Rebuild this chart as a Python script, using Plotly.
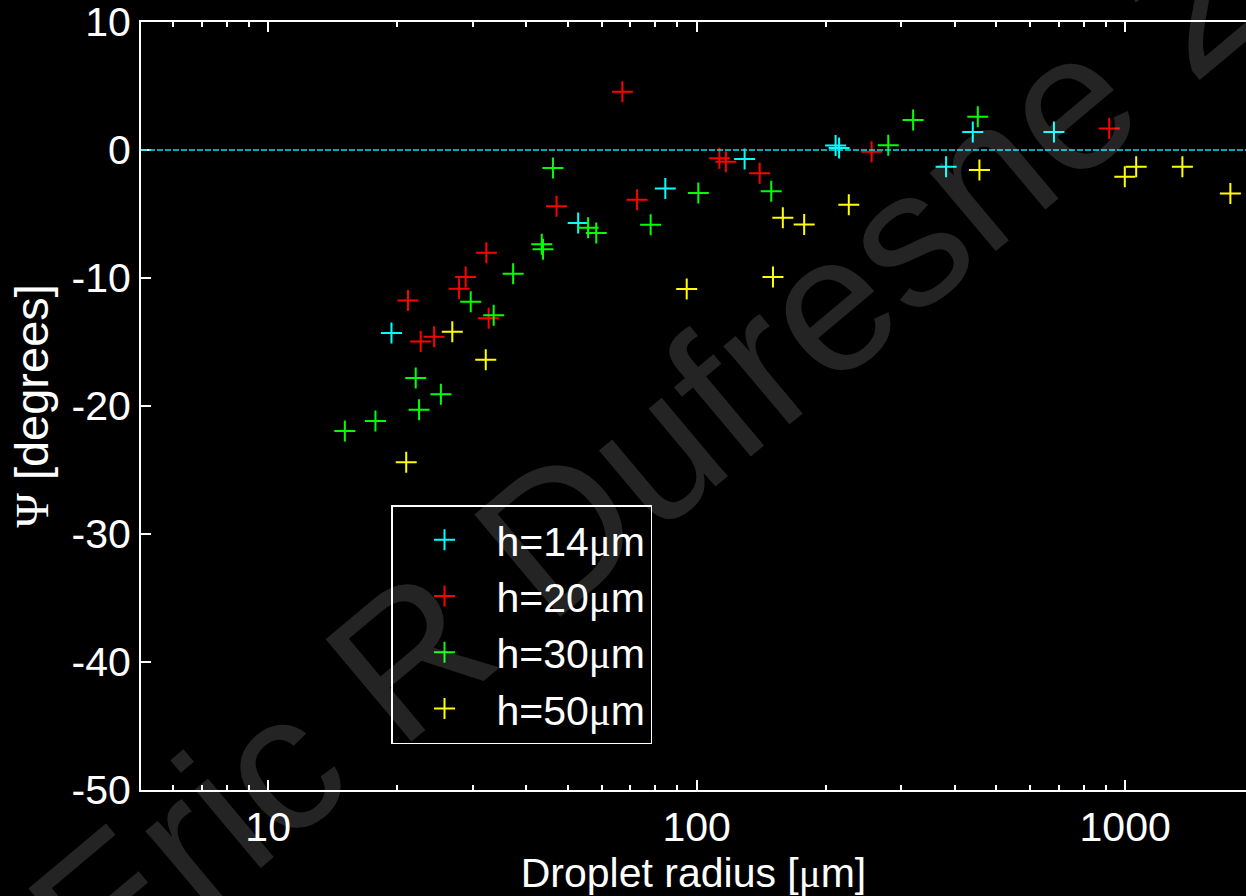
import math
import plotly.graph_objects as go

# Contact-angle offset Psi versus droplet radius, for four film thicknesses
r_h14 = [19.4, 52.9, 84.5, 129.4, 211, 215, 382, 441, 682]
psi_h14 = [-14.3, -5.7, -3.0, -0.7, 0.35, 0.15, -1.3, 1.4, 1.4]

r_h20 = [21.2, 22.7, 24.4, 27.9, 28.9, 32.3, 32.7, 47.1, 67.1, 72.6, 113, 117, 140.3, 256, 918]
psi_h20 = [-11.75, -14.97, -14.58, -10.83, -9.92, -8.02, -13.15, -4.4, 4.55, -3.88, -0.65, -0.91, -1.82, -0.13, 1.69]

r_h30 = [15.1, 17.8, 22.1, 22.5, 25.3, 29.7, 33.6, 37.3, 43.5, 43.8, 46.2, 55.8, 58.3, 78.1, 100.9, 149.3, 280, 320, 453]
psi_h30 = [-21.95, -21.17, -17.81, -20.29, -19.09, -11.85, -12.9, -9.66, -7.37, -7.76, -1.41, -6.07, -6.48, -5.83, -3.36, -3.23, 0.37, 2.34, 2.6]

r_h50 = [21.0, 26.9, 32.2, 94.8, 150.7, 158.9, 178.2, 226.5, 457, 998, 1061, 1360, 1760]
psi_h50 = [-24.4, -14.19, -16.38, -10.86, -9.92, -5.29, -5.81, -4.27, -1.56, -2.08, -1.3, -1.3, -3.39]

SERIF = "'Liberation Serif', 'DejaVu Serif', serif"
MU = f"<span style=\"font-family:{SERIF}\">μ</span>"
PSI = f"<span style=\"font-family:{SERIF}\">Ψ</span>"

series_names = [f"h=14{MU}m", f"h=20{MU}m", f"h=30{MU}m", f"h=50{MU}m"]
series_colors = ["#00ffff", "#ff0000", "#00ff00", "#ffff00"]

x_major = [10, 100, 1000]
x_major_text = ["10", "100", "1000"]
x_minor = [6, 7, 8, 9, 20, 30, 40, 50, 60, 70, 80, 90,
           200, 300, 400, 500, 600, 700, 800, 900, 2000]
y_ticks = [-50, -40, -30, -20, -10, 0, 10]
y_tick_text = ["-50", "-40", "-30", "-20", "-10", "0", "10"]

FONT = "Liberation Sans, Arial, sans-serif"
W, H = 1246, 896
ML, MR, MT, MB = 141, 0, 22, 106

fig = go.Figure()
for xs, ys, name, col in zip([r_h14, r_h20, r_h30, r_h50],
                             [psi_h14, psi_h20, psi_h30, psi_h50],
                             series_names, series_colors):
    fig.add_trace(go.Scatter(
        x=xs, y=ys, mode="markers", name=name,
        marker=dict(symbol="cross-thin", size=15, color=col,
                    line=dict(color=col, width=2)),
    ))

# zero reference line
fig.add_shape(type="line", xref="paper", yref="y", x0=0, x1=1, y0=0, y1=0,
              line=dict(color="#00e8e8", width=1.3, dash="6px,2px"))

# diagonal author watermark
def px_to_paper(px, py):
    return (px - ML) / (W - ML - MR), (H - MB - py) / (H - MT - MB)

wx, wy = px_to_paper(645, 458)
fig.add_annotation(
    text="Eric R Dufresne 2", xref="paper", yref="paper", x=wx, y=wy,
    xanchor="center", yanchor="middle", showarrow=False, textangle=-40,
    font=dict(family=FONT, size=194, color="rgba(255,255,255,0.14)"),
)

fig.update_layout(
    width=W, height=H,
    margin=dict(l=ML, r=MR, t=MT, b=MB),
    paper_bgcolor="black", plot_bgcolor="black",
    font=dict(family=FONT, size=41, color="white"),
    showlegend=True,
    legend=dict(
        x=(391 - ML) / (W - ML - MR), y=(H - MB - 505) / (H - MT - MB),
        xanchor="left", yanchor="top",
        bgcolor="rgba(0,0,0,0)", bordercolor="white", borderwidth=1.5,
        font=dict(family=FONT, size=41, color="white"),
        itemwidth=94,
    ),
    xaxis=dict(
        type="log", range=[math.log10(5.05), 3.282],
        tickvals=x_major, ticktext=x_major_text,
        ticks="inside", ticklen=10, tickwidth=1.5, tickcolor="white",
        minor=dict(tickvals=x_minor, ticks="inside", ticklen=5,
                   tickwidth=1.5, tickcolor="white", showgrid=False),
        showline=True, linecolor="white", linewidth=2, mirror="allticks",
        showgrid=False, zeroline=False,
        tickfont=dict(family=FONT, size=41, color="white"),
        title=dict(text=f"Droplet radius [{MU}m]",
                   font=dict(family=FONT, size=41, color="white"), standoff=6),
    ),
    yaxis=dict(
        range=[-50, 10.001], tickvals=y_ticks, ticktext=y_tick_text,
        ticks="inside", ticklen=10, tickwidth=1.5, tickcolor="white",
        ticklabeloverflow="allow",
        showline=True, linecolor="white", linewidth=2,
        showgrid=False, zeroline=False,
        tickfont=dict(family=FONT, size=41, color="white"),
        title=dict(text=f"{PSI} [degrees]",
                   font=dict(family=FONT, size=47, color="white"), standoff=8),
    ),
)

fig.write_html("out.html")
